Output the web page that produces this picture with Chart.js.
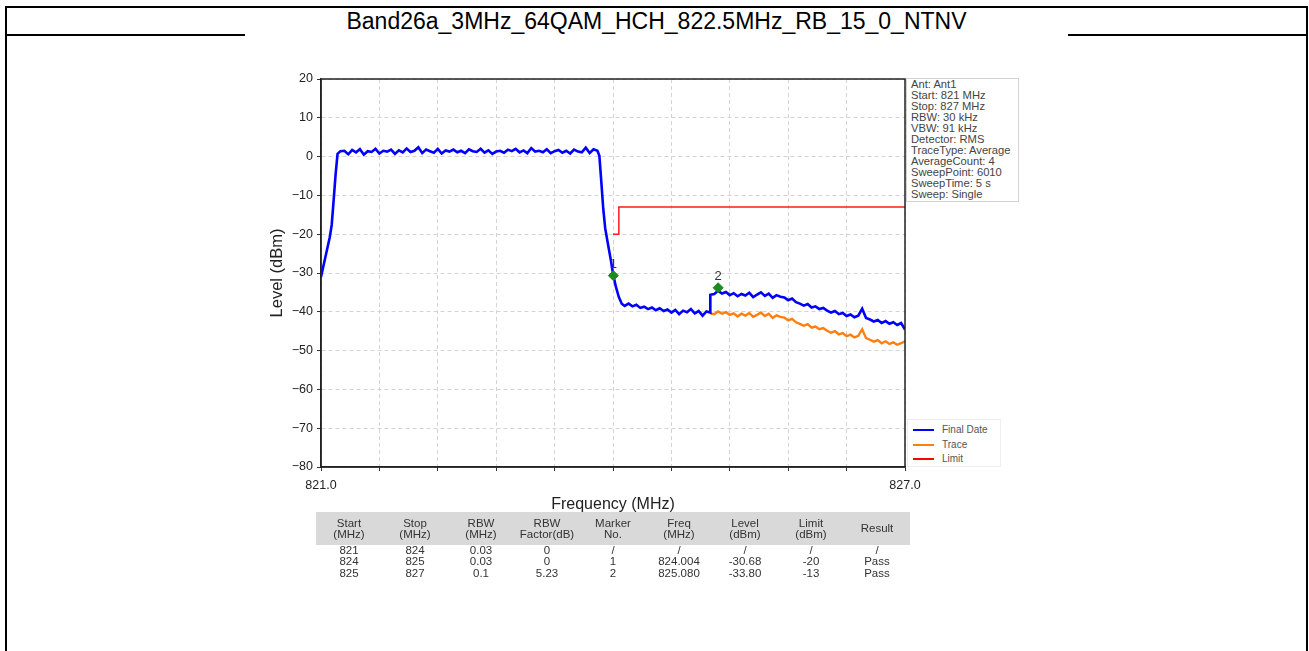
<!DOCTYPE html>
<html>
<head>
<meta charset="utf-8">
<script src="https://cdn.jsdelivr.net/npm/chart.js@4.4.1/dist/chart.umd.min.js"></script>
<style>
  body { margin: 0; background: #fff; font-family: "Liberation Sans", Arial, sans-serif; }
  #frame { position: absolute; left: 5px; top: 6px; width: 1303px; height: 720px; border: 2px solid #000; box-sizing: border-box; }
  #rule { position: absolute; left: 5px; top: 34px; width: 1303px; border-top: 2px solid #000; }
  #title { position: absolute; z-index: 5; left: 5px; top: 8px; width: 1303px; height: 26px; line-height: 26px; text-align: center; font-size: 23px; color: #000; }
  #figure { position: absolute; left: 245px; top: 33px; width: 823px; height: 640px; background: #fff; }
  #chart { position: absolute; left: 245px; top: 36px; }
  #info { position: absolute; left: 906px; top: 78px; width: 113px; height: 124px; border: 1px solid #d4d4d4; box-sizing: border-box; background: #fff;
          font-size: 11.2px; line-height: 11px; color: #444; padding: 0 0 0 4px; white-space: nowrap; }
  #legend { position: absolute; left: 907px; top: 419px; width: 94px; height: 48px; border: 1px solid #eee; box-sizing: border-box; background: #fff;
            font-size: 10px; color: #555; }
  #legend .item { position: absolute; left: 5px; height: 12px; }
  #legend .swatch { position: absolute; left: 0; top: 5px; width: 21px; height: 2px; }
  #legend .lbl { position: absolute; left: 29px; top: 0; line-height: 12px; white-space: nowrap; }
  #table { position: absolute; left: 316px; top: 512px; width: 594px; border-collapse: collapse; table-layout: fixed; font-size: 11.5px; color: #333; }
  #table th { background: #d9d9d9; font-weight: normal; height: 33px; line-height: 11px; padding: 0; text-align: center; }
  #table td { height: 11.3px; line-height: 11.3px; padding: 0; text-align: center; }
</style>
</head>
<body>
<div id="frame"></div>
<div id="rule"></div>
<div id="figure"></div>
<div id="title">Band26a_3MHz_64QAM_HCH_822.5MHz_RB_15_0_NTNV</div>
<canvas id="chart" width="823" height="478"></canvas>
<div id="info"></div>
<div id="legend"></div>
<table id="table"><thead><tr id="thead"></tr></thead><tbody id="tbody"></tbody></table>

<script>
// Final Date trace (blue)
const finalFreq = [
    821.00, 821.03, 821.06, 821.09, 821.11, 821.13, 821.15, 821.17, 821.20,
    821.24, 821.28, 821.32, 821.36, 821.40, 821.44, 821.48, 821.52, 821.56, 821.60,
    821.64, 821.68, 821.72, 821.76, 821.80, 821.84, 821.88, 821.92, 821.96, 822.00,
    822.04, 822.08, 822.12, 822.16, 822.20, 822.24, 822.28, 822.32, 822.36, 822.40,
    822.44, 822.48, 822.52, 822.56, 822.60, 822.64, 822.68, 822.72, 822.76, 822.80,
    822.84, 822.88, 822.92, 822.96, 823.00, 823.04, 823.08, 823.12, 823.16, 823.20,
    823.24, 823.28, 823.32, 823.36, 823.40, 823.44, 823.48, 823.52, 823.56, 823.60,
    823.64, 823.68, 823.72, 823.76, 823.80, 823.84,
    823.86, 823.88, 823.90, 823.92, 823.95, 823.98, 824.00, 824.03, 824.06, 824.09, 824.12,
    824.16, 824.20, 824.24, 824.28, 824.32, 824.36, 824.40, 824.44, 824.48, 824.52,
    824.56, 824.60, 824.64, 824.68, 824.72, 824.76, 824.80, 824.84, 824.88, 824.92, 824.96,
    825.00, 825.00,
    825.04, 825.08, 825.12, 825.16, 825.20, 825.24, 825.28, 825.32, 825.36, 825.40,
    825.44, 825.48, 825.52, 825.56, 825.60, 825.64, 825.68, 825.72, 825.76, 825.80,
    825.84, 825.88, 825.92, 825.96, 826.00, 826.04, 826.08, 826.12, 826.16, 826.20,
    826.24, 826.28, 826.32, 826.36, 826.40, 826.44, 826.48, 826.52, 826.56, 826.60,
    826.64, 826.68, 826.72, 826.76, 826.80, 826.84, 826.88, 826.92, 826.96, 827.00
];
const finalLevel = [
    -31.0, -27.6, -24.2, -20.8, -17.6, -11.2, -4.6, 0.7, 1.4,
    1.5, 0.6, 1.7, 1.1, 1.9, 0.5, 1.4, 1.2, 2.0, 0.8,
    1.5, 1.3, 1.8, 0.7, 1.6, 1.1, 2.1, 1.2, 1.5, 2.4,
    0.9, 1.8, 1.4, 1.0, 2.0, 0.8, 1.6, 1.3, 1.8, 1.1,
    1.5, 0.9, 1.9, 1.4, 1.2, 2.0, 1.0, 1.6, 0.7, 1.3,
    1.5, 1.0, 1.8, 1.4, 2.0, 1.1, 1.6, 0.9, 2.2, 1.3,
    1.5, 1.1, 1.9, 0.9, 1.4, 1.7, 1.0, 1.5, 0.8, 1.8,
    1.3, 1.1, 2.3, 0.9, 1.9, 1.5,
    0.2, -6.5, -13.5, -18.5, -22.8, -27.0, -30.2, -33.6, -36.2, -37.9, -38.5,
    -37.9, -38.6, -38.2, -39.0, -38.7, -39.3, -38.9, -39.6, -39.1, -39.8,
    -39.4, -40.2, -39.5, -40.6, -39.7, -40.1, -39.3, -40.4, -39.8, -41.0, -39.9,
    -40.2, -35.6,
    -35.4, -34.6, -35.3, -34.9, -35.7, -35.2, -36.0, -35.4, -35.8, -35.1,
    -36.2, -35.6, -35.0, -35.9, -35.3, -36.4, -35.7, -36.1, -36.3, -37.0,
    -36.6, -37.5, -37.9, -38.4, -38.0, -38.9, -38.6, -39.3, -39.0, -39.7,
    -40.2, -39.8, -40.6, -40.3, -41.1, -40.7, -41.4, -41.0, -39.2, -41.6,
    -42.0, -42.5, -42.1, -42.9, -42.4, -43.1, -42.7, -43.4, -42.9, -44.6
];

// Trace (orange), visible in the 825-827 MHz segment
const traceFreq = [
    825.00,
    825.04, 825.08, 825.12, 825.16, 825.20, 825.24, 825.28, 825.32, 825.36, 825.40,
    825.44, 825.48, 825.52, 825.56, 825.60, 825.64, 825.68, 825.72, 825.76, 825.80,
    825.84, 825.88, 825.92, 825.96, 826.00, 826.04, 826.08, 826.12, 826.16, 826.20,
    826.24, 826.28, 826.32, 826.36, 826.40, 826.44, 826.48, 826.52, 826.56, 826.60,
    826.64, 826.68, 826.72, 826.76, 826.80, 826.84, 826.88, 826.92, 826.96, 827.00
];
const traceLevel = [
    -40.4,
    -40.6, -39.9, -40.5, -40.1, -40.8, -40.4, -41.2, -40.5, -41.0, -40.3,
    -41.3, -40.8, -40.2, -41.1, -40.5, -41.6, -40.9, -41.3, -41.5, -42.2,
    -41.8, -42.7, -43.1, -43.6, -43.2, -44.1, -43.8, -44.5, -44.2, -44.9,
    -45.4, -45.0, -45.8, -45.5, -46.3, -45.9, -46.6, -46.2, -44.5, -46.8,
    -47.2, -47.7, -47.3, -48.1, -47.6, -48.3, -47.9, -48.5, -48.1, -47.6
];

// Limit line (red)
const limitFreq = [824.0, 824.06, 824.06, 827.0];
const limitLevel = [-20, -20, -13, -13];

// Markers
const markerNo = ["1", "2"];
const markerFreq = [824.004, 825.080];
const markerLevel = [-30.68, -33.80];

// Axis ticks
const xMin = 821, xMax = 827, xStep = 0.6;
const yMin = -80, yMax = 20, yStep = 10;

const infoLines = [
    "Ant: Ant1", "Start: 821 MHz", "Stop: 827 MHz", "RBW: 30 kHz", "VBW: 91 kHz",
    "Detector: RMS", "TraceType: Average", "AverageCount: 4", "SweepPoint: 6010",
    "SweepTime: 5 s", "Sweep: Single"
];

const legendLabels = ["Final Date", "Trace", "Limit"];
const legendColors = ["#0000ff", "#ff7f0e", "#ff0000"];

const tableHeader = ["Start<br>(MHz)", "Stop<br>(MHz)", "RBW<br>(MHz)", "RBW<br>Factor(dB)", "Marker<br>No.",
                     "Freq<br>(MHz)", "Level<br>(dBm)", "Limit<br>(dBm)", "Result"];
const tableRows = [
    ["821", "824", "0.03", "0", "/", "/", "/", "/", "/"],
    ["824", "825", "0.03", "0", "1", "824.004", "-30.68", "-20", "Pass"],
    ["825", "827", "0.1", "5.23", "2", "825.080", "-33.80", "-13", "Pass"]
];

const FONT = '"Liberation Sans", Arial, sans-serif';

// html bits: info box, legend, table
document.getElementById("info").innerHTML = infoLines.join("<br>");

const legend = document.getElementById("legend");
legendLabels.forEach(function (name, i) {
    const item = document.createElement("div");
    item.className = "item";
    item.style.top = (4 + i * 14.6) + "px";
    item.innerHTML = '<span class="swatch" style="background:' + legendColors[i] + '"></span><span class="lbl">' + name + '</span>';
    legend.appendChild(item);
});

document.getElementById("thead").innerHTML = tableHeader.map(h => "<th>" + h + "</th>").join("");
document.getElementById("tbody").innerHTML = tableRows.map(r =>
    "<tr>" + r.map(c => "<td>" + c + "</td>").join("") + "</tr>").join("");

function toPoints(xs, ys) {
    return xs.map((x, i) => ({ x: x, y: ys[i] }));
}

// plot frame + marker numbers
const extras = {
    id: "extras",
    afterDatasetsDraw(chart) {
        const { ctx, chartArea, scales } = chart;
        ctx.save();
        ctx.strokeStyle = "#222";
        ctx.lineWidth = 1.5;
        ctx.strokeRect(chartArea.left, chartArea.top, chartArea.right - chartArea.left, chartArea.bottom - chartArea.top);
        ctx.fillStyle = "#333";
        ctx.font = "13px " + FONT;
        ctx.textAlign = "center";
        ctx.textBaseline = "bottom";
        markerNo.forEach(function (n, i) {
            const px = scales.x.getPixelForValue(markerFreq[i]);
            const py = scales.y.getPixelForValue(markerLevel[i]);
            ctx.fillText(n, px, py - 5);
        });
        ctx.restore();
    }
};

const ctx = document.getElementById("chart").getContext("2d");

new Chart(ctx, {
    type: "scatter",
    data: {
        datasets: [
            {
                label: "Marker",
                data: toPoints(markerFreq, markerLevel),
                pointStyle: "rectRot",
                pointRadius: 5,
                backgroundColor: "#1d8a1d",
                borderColor: "#1d8a1d",
                showLine: false
            },
            {
                label: "Final Date",
                data: toPoints(finalFreq, finalLevel),
                showLine: true,
                borderColor: "#0000ff",
                borderWidth: 2.6,
                pointRadius: 0
            },
            {
                label: "Trace",
                data: toPoints(traceFreq, traceLevel),
                showLine: true,
                borderColor: "#ff7f0e",
                borderWidth: 2.4,
                pointRadius: 0
            },
            {
                label: "Limit",
                data: toPoints(limitFreq, limitLevel),
                showLine: true,
                borderColor: "#ff1a1a",
                borderWidth: 1.5,
                pointRadius: 0
            }
        ]
    },
    options: {
        responsive: false,
        animation: false,
        layout: { padding: { top: 43, right: 163, left: 0, bottom: 0 } },
        plugins: {
            legend: { display: false },
            tooltip: { enabled: false }
        },
        scales: {
            x: {
                type: "linear",
                min: xMin,
                max: xMax,
                afterFit: s => { s.height = 47; },
                ticks: {
                    stepSize: xStep,
                    autoSkip: false,
                    maxRotation: 0,
                    padding: 7,
                    color: "#222",
                    font: { size: 12.5, family: FONT },
                    callback: (v, i, t) => (i === 0 || i === t.length - 1) ? v.toFixed(1) : ""
                },
                grid: { color: "#d4d4d4", tickColor: "#333", tickLength: 4 },
                border: { color: "#222", width: 1.5, dash: [4, 3] },
                title: {
                    display: true,
                    text: "Frequency (MHz)",
                    color: "#222",
                    font: { size: 16, family: FONT },
                    padding: { top: 0, bottom: 0 }
                }
            },
            y: {
                min: yMin,
                max: yMax,
                afterFit: s => { s.width = 76; },
                ticks: {
                    stepSize: yStep,
                    padding: 4,
                    color: "#222",
                    font: { size: 12.5, family: FONT },
                    callback: v => v < 0 ? "\u2212" + (-v) : "" + v
                },
                grid: { color: "#d4d4d4", tickColor: "#333", tickLength: 4 },
                border: { color: "#222", width: 1.5, dash: [4, 3] },
                title: {
                    display: true,
                    text: "Level (dBm)",
                    color: "#222",
                    font: { size: 16.5, family: FONT },
                    padding: { top: 23, bottom: 0 }
                }
            }
        }
    },
    plugins: [extras]
});
</script>
</body>
</html>
